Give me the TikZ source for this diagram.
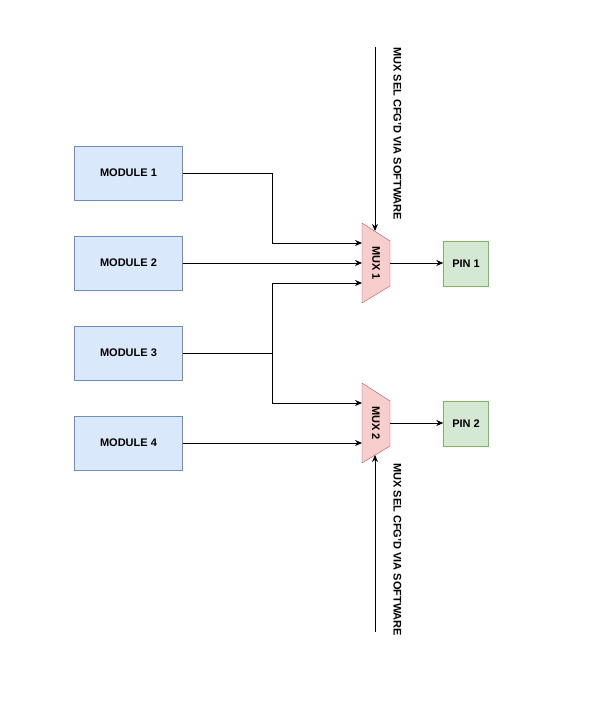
\documentclass[tikz,border=0pt]{standalone}
\usepackage{fontspec}
\setmainfont{Liberation Sans}
\usepackage{tikz}
\usetikzlibrary{positioning,arrows.meta}

\definecolor{modfill}{HTML}{DAE8FC}
\definecolor{moddraw}{HTML}{6C8EBF}
\definecolor{muxfill}{HTML}{F8CECC}
\definecolor{muxdraw}{HTML}{B85450}
\definecolor{pinfill}{HTML}{D5E8D4}
\definecolor{pindraw}{HTML}{82B366}

\tikzset{
  modbox/.style={draw=moddraw,fill=modfill,minimum width=108pt,minimum height=54pt,inner sep=0pt,font=\bfseries\fontsize{11}{13}\selectfont},
  pinbox/.style={draw=pindraw,fill=pinfill,minimum width=45pt,minimum height=45pt,inner sep=0pt,font=\bfseries\fontsize{11}{13}\selectfont},
  muxbody/.style={draw=muxdraw,fill=muxfill},
  vlabel/.style={rotate=-90,inner sep=0pt,font=\bfseries\fontsize{11}{13}\selectfont},
  wire/.style={-{Stealth[length=7pt,width=6pt]},line width=0.8pt}
}

\begin{document}
\begin{tikzpicture}[x=1pt,y=-1pt]
	\useasboundingbox (0,0) rectangle (596,703);
	% modules
	\foreach\i\y in {1/173, 2/263, 3/353, 4/443}
	{\node[modbox] (mod\i) at (128.5,\y) {MODULE \i};}
	% muxes
	\filldraw[muxbody] (362,223) -- (390,241) -- (390,286) -- (362,303) -- cycle;
	\filldraw[muxbody] (362,383) -- (390,401) -- (390,446) -- (362,463) -- cycle;
	\node[vlabel] (mux1) at (376,263) {MUX 1};
	\node[vlabel] (mux2) at (376,423) {MUX 2};
	% pins
	\node[pinbox] (pin1) at (466,263.5) {PIN 1};
	\node[pinbox] (pin2) at (466,423.5) {PIN 2};
	% mux ports
	\coordinate (in1a) at (362,243);
	\coordinate (in1b) at (362,263);
	\coordinate (in1c) at (362,283);
	\coordinate (in2a) at (362,403);
	\coordinate (in2b) at (362,443);
	\coordinate (out1) at (390,263);
	\coordinate (out2) at (390,423);
	\coordinate (sel1) at (375,231);
	\coordinate (sel2) at (375,455);
	\coordinate (top1) at (375,47);
	\coordinate (bot2) at (375,632);
	\coordinate (jn) at (272,353);
	% wires
	\draw[wire] (mod1.east) -- (mod1.east -| jn) |- (in1a);
	\draw[wire] (mod2.east) -- (in1b);
	\draw[wire] (mod3.east) -- (jn) |- (in1c);
	\draw[wire] (jn) |- (in2a);
	\draw[wire] (mod4.east) -- (in2b);
	\draw[wire] (out1) -- (pin1.west |- out1);
	\draw[wire] (out2) -- (pin2.west |- out2);
	\draw[wire] (top1) -- (sel1);
	\draw[wire] (bot2) -- (sel2);
	% select labels
	\node[vlabel,anchor=west] (sel1txt) at (397.5,47) {MUX SEL CFG'D VIA SOFTWARE};
	\node[vlabel,anchor=west] (sel2txt) at (397.5,463) {MUX SEL CFG'D VIA SOFTWARE};
\end{tikzpicture}
\end{document}
